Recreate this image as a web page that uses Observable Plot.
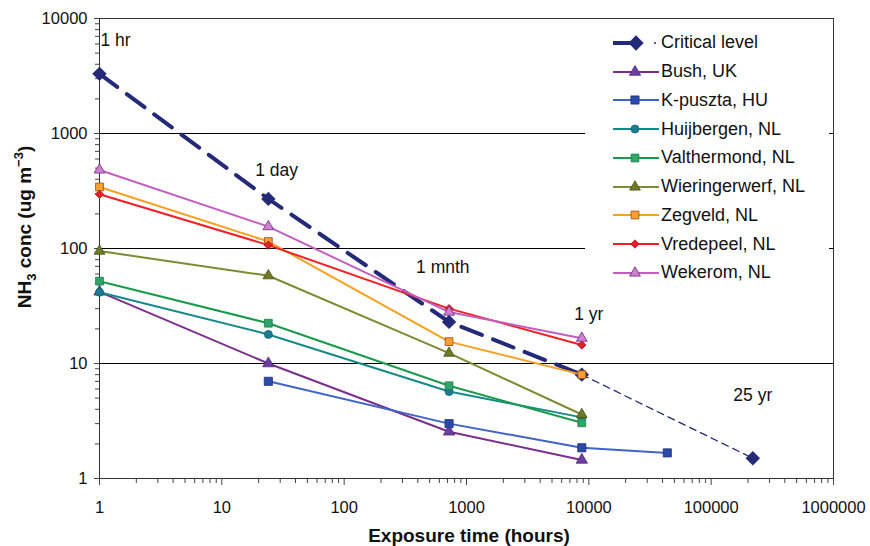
<!DOCTYPE html>
<html>
<head>
<meta charset="utf-8">
<script src="https://cdn.jsdelivr.net/npm/d3@7"></script>
<script src="https://cdn.jsdelivr.net/npm/@observablehq/plot@0.6"></script>
<style>
  body { margin: 0; background: #fff; font-family: "Liberation Sans", Arial, sans-serif; }
  #wrap { position: relative; width: 870px; height: 546px; }
  #legend { position: absolute; left: 585px; top: 28.5px; width: 244px; padding-left: 27px; box-sizing: border-box; background: #fff; }
  .row { display: flex; align-items: center; height: 28.75px; font-size: 18px; color: #111; white-space: nowrap; }
  .row svg { margin-right: 2px; flex: none; }
</style>
</head>
<body>
<div id="wrap"><div id="legend"></div></div>
<script>
// Exposure times (hours) for the monitoring sites
const hours = [1, 24, 720, 8760];
const kpusztaHours = [24, 720, 8760, 43800];

// Critical level for NH3 (ug m-3) against averaging time
const criticalHours = [1, 24, 720, 8760];
const criticalLevel = [3300, 270, 23, 8];
const criticalExtHours = [8760, 219000];
const criticalExtLevel = [8, 1.5];

// Maximum concentrations observed at each site
const bush = [42, 10, 2.55, 1.45];
const kpuszta = [7, 3.0, 1.85, 1.67];
const huijbergen = [41.6, 17.9, 5.7, 3.4];
const valthermond = [52, 22.4, 6.4, 3.05];
const wieringerwerf = [95, 58, 12.3, 3.6];
const zegveld = [343, 115, 15.5, 8];
const vredepeel = [296, 107, 30, 14.5];
const wekerom = [482, 155, 28, 16.6];

// Tick labels
const xTicks = [1, 10, 100, 1000, 10000, 100000, 1000000];
const yTicks = [1, 10, 100, 1000, 10000];
const gridY = [10, 100, 1000];

// Time-span annotations
const spanLabels = ["1 hr", "1 day", "1 mnth", "1 yr", "25 yr"];
const spanX = [1, 28, 640, 10000, 219000];
const spanY = [6500, 480, 68, 27, 5.3];

const series = [
  {name: "Bush, UK",          t: hours,        v: bush,          line: "#7a2e8e", fill: "#6b3fa0", edge: "#4b2a7a", symbol: "triangle", r: 4.2},
  {name: "K-puszta, HU",      t: kpusztaHours, v: kpuszta,       line: "#3f63c8", fill: "#2b4aa8", edge: "#1e2f80", symbol: "square",   r: 4.6},
  {name: "Huijbergen, NL",    t: hours,        v: huijbergen,    line: "#16898a", fill: "#1a7c8c", edge: "#175f80", symbol: "circle",   r: 4},
  {name: "Valthermond, NL",   t: hours,        v: valthermond,   line: "#1b9a4c", fill: "#2fa56a", edge: "#1d7a4a", symbol: "square",   r: 4.4},
  {name: "Wieringerwerf, NL", t: hours,        v: wieringerwerf, line: "#808a30", fill: "#6d7a26", edge: "#4a5218", symbol: "triangle", r: 4},
  {name: "Zegveld, NL",       t: hours,        v: zegveld,       line: "#f8a020", fill: "#f6a030", edge: "#a0441e", symbol: "square",   r: 4.4},
  {name: "Vredepeel, NL",     t: hours,        v: vredepeel,     line: "#ee2226", fill: "#e2202a", edge: "#b01020", symbol: "diamond2", r: 3.8},
  {name: "Wekerom, NL",       t: hours,        v: wekerom,       line: "#c25fc0", fill: "#d080d0", edge: "#6a2a7a", symbol: "triangle", r: 4}
];
const criticalColor = "#252a78";

const rowsOf = (t, v) => t.map((d, i) => ({x: d, y: v[i]}));
const critical = rowsOf(criticalHours, criticalLevel);
const criticalExt = rowsOf(criticalExtHours, criticalExtLevel);
const spans = spanLabels.map((s, i) => ({label: s, x: spanX[i], y: spanY[i]}));

// Minor log ticks between the decades
const minorX = d3.range(0, 6).flatMap(e => d3.range(2, 10).map(k => k * 10 ** e));
const minorY = d3.range(0, 4).flatMap(e => d3.range(2, 10).map(k => k * 10 ** e));

const marks = [
  Plot.ruleY(gridY, {stroke: "#000", strokeWidth: 1}),
  Plot.frame({stroke: "#333", strokeWidth: 1}),
  Plot.axisX(minorX, {tickSize: 5, tickFormat: () => "", label: null, stroke: "#444"}),
  Plot.axisX(xTicks, {tickSize: 7, tickPadding: 16, tickFormat: d => String(d), label: null,
    fontSize: 16.5, stroke: "#444", fill: "#111"}),
  Plot.axisY(minorY, {tickSize: 4, tickFormat: () => "", label: null, stroke: "#444"}),
  Plot.axisY(yTicks, {tickSize: 5, tickPadding: 7, tickFormat: d => String(d), label: null,
    fontSize: 16.5, stroke: "#444", fill: "#111"}),
  // critical level underneath the site series
  Plot.line(criticalExt, {x: "x", y: "y", stroke: criticalColor, strokeWidth: 1.3, strokeDasharray: "7,5"}),
  Plot.line(critical, {x: "x", y: "y", stroke: criticalColor, strokeWidth: 4, strokeDasharray: "22,12"}),
  Plot.dot([...critical, criticalExt[1]], {x: "x", y: "y", symbol: "diamond2", r: 6.5, fill: criticalColor})
];

for (const s of series) {
  const data = rowsOf(s.t, s.v);
  marks.push(Plot.line(data, {x: "x", y: "y", stroke: s.line, strokeWidth: 2}));
  marks.push(Plot.dot(data, {x: "x", y: "y", symbol: s.symbol, r: s.r, fill: s.fill, stroke: s.edge, strokeWidth: 0.8}));
}

marks.push(
  Plot.text(spans.slice(0, 1), {x: "x", y: "y", text: "label", fontSize: 17.5, fill: "#111", textAnchor: "start", dx: 1}),
  Plot.text(spans.slice(1), {x: "x", y: "y", text: "label", fontSize: 17.5, fill: "#111", textAnchor: "middle"})
);

const chart = Plot.plot({
  width: 870,
  height: 546,
  marginLeft: 99,
  marginRight: 37,
  marginTop: 18,
  marginBottom: 68,
  style: {fontFamily: "Liberation Sans, Arial, sans-serif", background: "#fff", overflow: "visible"},
  x: {type: "log", domain: [1, 1000000], axis: null},
  y: {type: "log", domain: [1, 10000], axis: null},
  marks
});

const svg = d3.select(chart);
svg.append("text")
  .attr("x", 469).attr("y", 542)
  .attr("text-anchor", "middle")
  .attr("font-size", 19).attr("font-weight", "bold").attr("fill", "#111")
  .text("Exposure time (hours)");

const yTitle = svg.append("text")
  .attr("transform", "translate(31,227) rotate(-90)")
  .attr("text-anchor", "middle")
  .attr("font-size", 19).attr("font-weight", "bold").attr("fill", "#111");
yTitle.append("tspan").text("NH");
yTitle.append("tspan").attr("font-size", 13).attr("dy", 5).text("3");
yTitle.append("tspan").attr("dy", -5).text(" conc (ug m");
yTitle.append("tspan").attr("font-size", 13).attr("dy", -8).text("\u22123");
yTitle.append("tspan").attr("dy", 8).text(")");

document.getElementById("wrap").prepend(chart);

// Legend
const legend = d3.select("#legend");
const legendItems = [{name: "Critical level", critical: true}, ...series];
for (const s of legendItems) {
  const row = legend.append("div").attr("class", "row");
  const sw = row.append("svg").attr("width", 47).attr("height", 16);
  if (s.critical) {
    sw.append("line").attr("x1", 1).attr("x2", 24).attr("y1", 8).attr("y2", 8)
      .attr("stroke", criticalColor).attr("stroke-width", 4);
    sw.append("path").attr("d", d3.symbol(d3.symbolDiamond2, 150)()).attr("transform", "translate(24,8)")
      .attr("fill", criticalColor);
    sw.append("line").attr("x1", 42).attr("x2", 44).attr("y1", 8).attr("y2", 8)
      .attr("stroke", criticalColor).attr("stroke-width", 1.5);
  } else {
    const sym = {triangle: d3.symbolTriangle, square: d3.symbolSquare, circle: d3.symbolCircle, diamond2: d3.symbolDiamond2}[s.symbol];
    sw.append("line").attr("x1", 1).attr("x2", 47).attr("y1", 8).attr("y2", 8)
      .attr("stroke", s.line).attr("stroke-width", 2);
    sw.append("path").attr("d", d3.symbol(sym, Math.PI * s.r * s.r)()).attr("transform", "translate(23,8)")
      .attr("fill", s.fill).attr("stroke", s.edge).attr("stroke-width", 0.8);
  }
  row.append("span").text(s.name);
}
</script>
</body>
</html>
